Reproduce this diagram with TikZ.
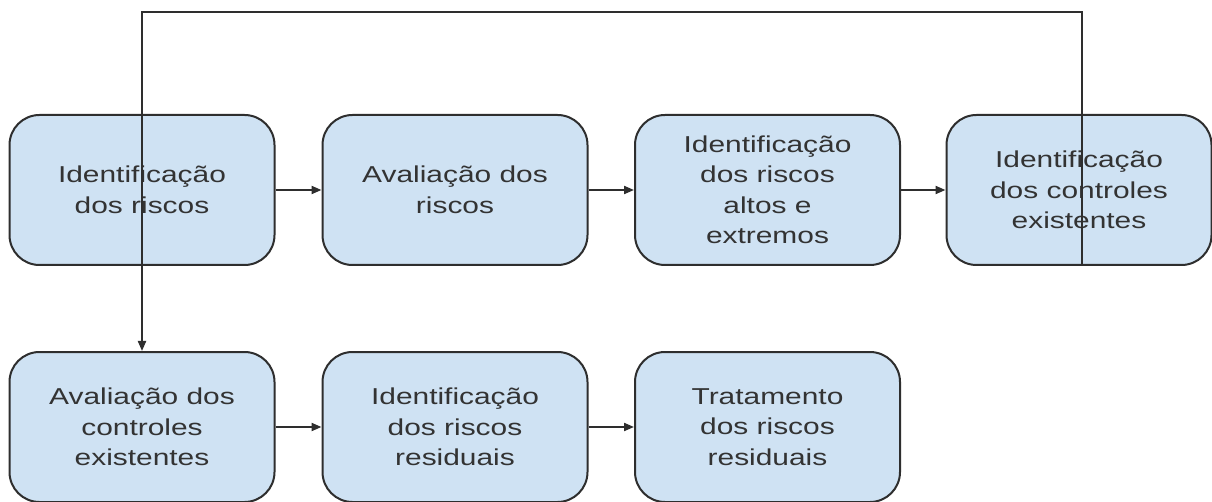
\documentclass[tikz,border=0pt]{standalone}
\usepackage{fontspec}
\setmainfont{Liberation Sans}[FakeStretch=1.3]
\usetikzlibrary{arrows.meta}
\definecolor{boxblue}{HTML}{CFE2F3}
\definecolor{linegray}{HTML}{2E2E2E}
\definecolor{txtgray}{HTML}{333333}
\tikzset{
  stepbox/.style={draw=linegray, line width=2pt, fill=boxblue, rounded corners=30pt,
    minimum width=265pt, minimum height=150pt, align=center, inner sep=0pt,
    text=txtgray, font=\fontsize{23}{30.5}\selectfont},
  conn/.style={draw=linegray, line width=2pt},
  arr/.style={conn, -{Triangle[length=10pt,width=8pt]}}
}
\begin{document}
\begin{tikzpicture}[x=1pt,y=-1pt]
\useasboundingbox[fill=white] (0,0) rectangle (1212,502);
\node[stepbox] (b1) at (142,190) {Identificação\\dos riscos};
\node[stepbox] (b2) at (455,190) {Avaliação dos\\riscos};
\node[stepbox] (b3) at (767.5,190) {Identificação\\dos riscos\\altos e\\extremos};
\node[stepbox] (b4) at (1079,190) {Identificação\\dos controles\\existentes};
\node[stepbox] (b5) at (142,427) {Avaliação dos\\controles\\existentes};
\node[stepbox] (b6) at (455,427) {Identificação\\dos riscos\\residuais};
\node[stepbox] (b7) at (767.5,427) {Tratamento\\dos riscos\\residuais};
\draw[arr] (b1) -- (b2);
\draw[arr] (b2) -- (b3);
\draw[arr] (b3) -- (b4);
\draw[arr] (b5) -- (b6);
\draw[arr] (b6) -- (b7);
\coordinate (tr) at (1082,12);
\coordinate (tl) at (142,12);
\draw[arr] (b4.south -| tr) -- (tr) -- (tl) -- (b5.north);
\end{tikzpicture}
\end{document}
